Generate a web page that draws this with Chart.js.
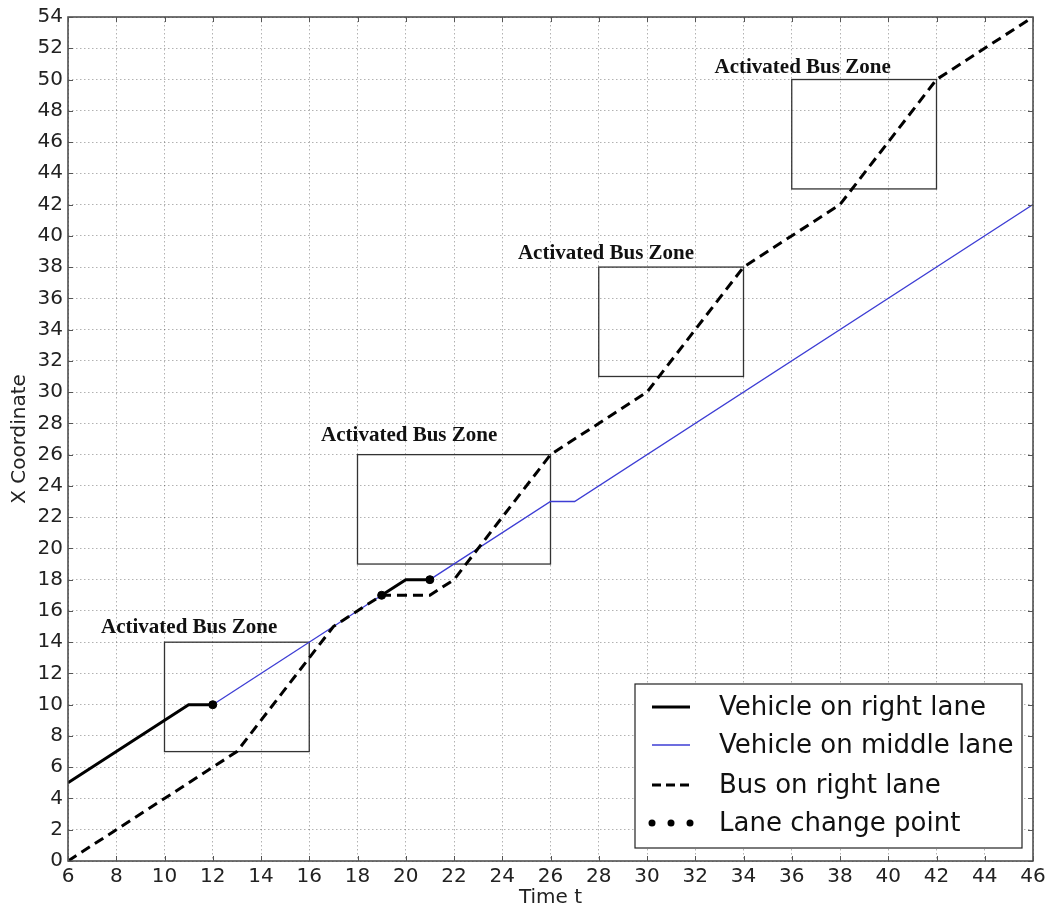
<!DOCTYPE html>
<html><head><meta charset="utf-8">
<script src="https://cdn.jsdelivr.net/npm/chart.js@4"></script>
<style>html,body{margin:0;padding:0;background:#fff;} #wrap{width:1055px;height:913px;position:relative}</style>
</head><body><div id="wrap"><canvas id="c" width="1055" height="913"></canvas></div>
<script>
// ---- data ----
const rightLaneT1 = [6, 11, 12];
const rightLaneX1 = [5, 10, 10];
const rightLaneT2 = [19, 20, 21];
const rightLaneX2 = [17, 18, 18];
const middleLaneT1 = [12, 19];
const middleLaneX1 = [10, 17];
const middleLaneT2 = [21, 26, 27, 46];
const middleLaneX2 = [18, 23, 23, 42];
const busT = [6, 13, 17, 19, 21, 22, 26, 30, 34, 38, 42, 46];
const busX = [0, 7, 15, 17, 17, 18, 26, 30, 38, 42, 50, 54];
const changeT = [12, 19, 21];
const changeX = [10, 17, 18];
const zoneT0 = [10, 18, 28, 36];
const zoneT1 = [16, 26, 34, 42];
const zoneX0 = [7, 19, 31, 43];
const zoneX1 = [14, 26, 38, 50];
const zoneLabel = 'Activated Bus Zone';
const legendLabels = ['Vehicle on right lane', 'Vehicle on middle lane', 'Bus on right lane', 'Lane change point'];
const xTitle = 'Time t';
const yTitle = 'X Coordinate';
const tMin = 6, tMax = 46, xMin = 0, xMax = 54, tickStep = 2;

const toPts = (t, x) => t.map((v, i) => ({x: v, y: x[i]}));
const BLUE = '#3d3dd4';
const SANS = '"DejaVu Sans", sans-serif';

// annotation label anchors (data coords: left edge, baseline)
const labelPos = [[7.37, 14.6], [16.49, 26.9], [24.65, 38.5], [32.8, 50.4]];

const decor = {
  id: 'decor',
  beforeDatasetsDraw(chart) {
    const {ctx, scales: {x, y}} = chart;
    ctx.save();
    ctx.strokeStyle = '#333';
    ctx.lineWidth = 1.3;
    for (let i = 0; i < zoneT0.length; i++) {
      const l = x.getPixelForValue(zoneT0[i]), r = x.getPixelForValue(zoneT1[i]);
      const t = y.getPixelForValue(zoneX1[i]), b = y.getPixelForValue(zoneX0[i]);
      ctx.strokeRect(l, t, r - l, b - t);
    }
    ctx.restore();
  },
  afterDraw(chart) {
    const {ctx, chartArea: ca, scales: {x, y}} = chart;
    ctx.save();
    // zone labels
    ctx.fillStyle = '#111';
    ctx.font = 'bold 21px "Liberation Serif", serif';
    ctx.textBaseline = 'alphabetic';
    ctx.textAlign = 'left';
    labelPos.forEach(p => {
      ctx.fillText(zoneLabel, x.getPixelForValue(p[0]), y.getPixelForValue(p[1]));
    });
    // frame
    ctx.strokeStyle = '#444';
    ctx.lineWidth = 1.5;
    ctx.strokeRect(ca.left, ca.top, ca.right - ca.left, ca.bottom - ca.top);
    // inner ticks on all sides
    ctx.lineWidth = 1;
    ctx.strokeStyle = '#555';
    ctx.beginPath();
    x.ticks.forEach(tk => {
      const px = Math.round(x.getPixelForValue(tk.value)) + 0.5;
      ctx.moveTo(px, ca.bottom); ctx.lineTo(px, ca.bottom - 5);
      ctx.moveTo(px, ca.top); ctx.lineTo(px, ca.top + 5);
    });
    y.ticks.forEach(tk => {
      const py = Math.round(y.getPixelForValue(tk.value)) + 0.5;
      ctx.moveTo(ca.left, py); ctx.lineTo(ca.left + 5, py);
      ctx.moveTo(ca.right, py); ctx.lineTo(ca.right - 5, py);
    });
    ctx.stroke();
    // legend
    const bw = 387, bh = 164;
    const bx = ca.right - 11 - bw, by = ca.bottom - 13 - bh;
    ctx.fillStyle = '#fff';
    ctx.fillRect(bx, by, bw, bh);
    ctx.strokeStyle = '#222';
    ctx.lineWidth = 1.2;
    ctx.strokeRect(bx, by, bw, bh);
    const rowY = [23, 61, 101, 139];
    const sx0 = bx + 17, sx1 = bx + 55, tx = bx + 84;
    ctx.font = '26px ' + SANS;
    ctx.textBaseline = 'middle';
    ctx.fillStyle = '#111';
    legendLabels.forEach((lab, i) => {
      const cy = by + rowY[i];
      ctx.save();
      if (i === 0) { ctx.strokeStyle = '#000'; ctx.lineWidth = 3; }
      if (i === 1) { ctx.strokeStyle = BLUE; ctx.lineWidth = 1.3; }
      if (i === 2) { ctx.strokeStyle = '#000'; ctx.lineWidth = 3; ctx.setLineDash([9, 5]); }
      if (i < 3) {
        ctx.beginPath(); ctx.moveTo(sx0, cy); ctx.lineTo(sx1, cy); ctx.stroke();
      } else {
        ctx.fillStyle = '#000';
        [sx0, (sx0 + sx1) / 2, sx1].forEach(dx => { ctx.beginPath(); ctx.arc(dx, cy, 3.5, 0, Math.PI * 2); ctx.fill(); });
      }
      ctx.restore();
      ctx.fillText(lab, tx, cy + 1);
    });
    ctx.restore();
  }
};

const tickFont = {family: SANS, size: 20};
new Chart(document.getElementById('c'), {
  type: 'line',
  data: {
    datasets: [
      {label: 'pts', data: toPts(changeT, changeX), showLine: false, pointRadius: 4, pointBackgroundColor: '#000', pointBorderColor: '#000', order: 0},
      {label: 'r1', data: toPts(rightLaneT1, rightLaneX1), borderColor: '#000', borderWidth: 3, pointRadius: 0, order: 1},
      {label: 'r2', data: toPts(rightLaneT2, rightLaneX2), borderColor: '#000', borderWidth: 3, pointRadius: 0, order: 1},
      {label: 'bus', data: toPts(busT, busX), borderColor: '#000', borderWidth: 3, borderDash: [10, 6], borderCapStyle: 'butt', pointRadius: 0, order: 2},
      {label: 'm1', data: toPts(middleLaneT1, middleLaneX1), borderColor: BLUE, borderWidth: 1.3, pointRadius: 0, order: 3},
      {label: 'm2', data: toPts(middleLaneT2, middleLaneX2), borderColor: BLUE, borderWidth: 1.3, pointRadius: 0, order: 3}
    ]
  },
  options: {
    responsive: false,
    animation: false,
    devicePixelRatio: 1,
    layout: {padding: {top: 15, right: 22, left: 0, bottom: 0}},
    elements: {line: {tension: 0, fill: false}},
    plugins: {legend: {display: false}, tooltip: {enabled: false}},
    scales: {
      x: {
        type: 'linear', min: tMin, max: tMax,
        ticks: {stepSize: tickStep, font: tickFont, color: '#222', padding: 4, maxRotation: 0, autoSkip: false},
        grid: {color: 'rgba(0,0,0,0.3)', lineWidth: 1, drawTicks: false},
        border: {display: false, dash: [1.5, 2.5]},
        title: {display: true, text: xTitle, font: {family: SANS, size: 20}, color: '#222', padding: {top: 0, bottom: 3}},
        afterFit: s => { s.height = 52; }
      },
      y: {
        type: 'linear', min: xMin, max: xMax,
        ticks: {stepSize: tickStep, font: tickFont, color: '#222', padding: 5, autoSkip: false},
        grid: {color: 'rgba(0,0,0,0.3)', lineWidth: 1, drawTicks: false},
        border: {display: false, dash: [1.5, 2.5]},
        title: {display: true, text: yTitle, font: {family: SANS, size: 20}, color: '#222', padding: {top: 8, bottom: 0}},
        afterFit: s => { s.width = 68; }
      }
    }
  },
  plugins: [decor]
});
</script></body></html>
